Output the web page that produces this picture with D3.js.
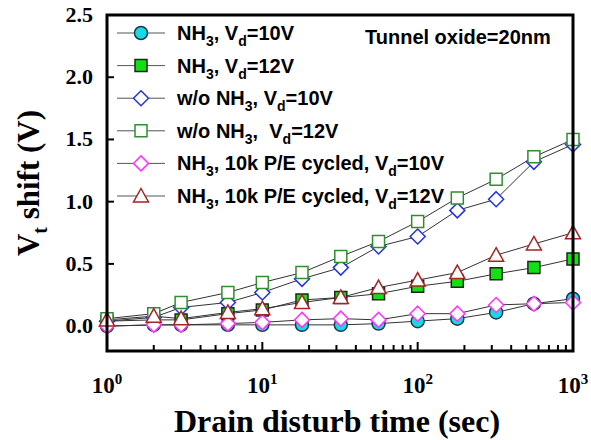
<meta charset="utf-8">
<title>Vt shift vs drain disturb time</title>
<body style="margin:0;background:#fff">
<script src="https://cdn.jsdelivr.net/npm/d3@7"></script>
<script>
// data
var times = [1, 2, 3, 6, 10, 18, 32, 56, 100, 180, 320, 560, 1000];
var nh3_10 =      [0.00, 0.01, 0.01, 0.01, 0.01, 0.01, 0.01, 0.02, 0.04, 0.06, 0.11, 0.18, 0.22];
var nh3_12 =      [0.04, 0.05, 0.05, 0.10, 0.13, 0.21, 0.23, 0.26, 0.32, 0.36, 0.42, 0.47, 0.54];
var wo_10 =       [0.04, 0.07, 0.15, 0.19, 0.27, 0.38, 0.47, 0.64, 0.72, 0.93, 1.02, 1.32, 1.46];
var wo_12 =       [0.06, 0.10, 0.19, 0.27, 0.35, 0.43, 0.56, 0.68, 0.84, 1.03, 1.18, 1.36, 1.50];
var cyc_10 =      [0.00, 0.01, 0.01, 0.02, 0.03, 0.05, 0.06, 0.05, 0.10, 0.10, 0.17, 0.18, 0.19];
var cyc_12 =      [0.05, 0.08, 0.06, 0.11, 0.14, 0.19, 0.23, 0.31, 0.37, 0.43, 0.57, 0.66, 0.75];

var yTicks = [0, 0.5, 1.0, 1.5, 2.0, 2.5];
var xDecades = [1, 10, 100, 1000];

// legend labels: [text, subscript?]
var labels = [
  [["NH", 0], ["3", 1], [", V", 0], ["d", 1], ["=10V", 0]],
  [["NH", 0], ["3", 1], [", V", 0], ["d", 1], ["=12V", 0]],
  [["w/o NH", 0], ["3", 1], [", V", 0], ["d", 1], ["=10V", 0]],
  [["w/o NH", 0], ["3", 1], [",  V", 0], ["d", 1], ["=12V", 0]],
  [["NH", 0], ["3", 1], [", 10k P/E cycled, V", 0], ["d", 1], ["=10V", 0]],
  [["NH", 0], ["3", 1], [", 10k P/E cycled, V", 0], ["d", 1], ["=12V", 0]]
];

var series = [
  {v: nh3_10, shape: "circle",   fill: "#19d9e6", stroke: "#1a3a4a"},
  {v: nh3_12, shape: "square",   fill: "#11e011", stroke: "#222"},
  {v: wo_10,  shape: "diamond",  fill: "#fff",    stroke: "#2233dd"},
  {v: wo_12,  shape: "square",   fill: "#fff",    stroke: "#2f8f2f"},
  {v: cyc_10, shape: "diamond",  fill: "#fff",    stroke: "#ff33ff"},
  {v: cyc_12, shape: "triangle", fill: "#fff",    stroke: "#a32525"}
];

var W = 591, H = 440;
var L = 107, R = 573, T = 15, B = 351;

var svg = d3.select("body").append("svg")
    .attr("width", W).attr("height", H)
    .style("display", "block");

var x = d3.scaleLog().domain([1, 1000]).range([L, R]);
var y = d3.scaleLinear().domain([-0.2, 2.5]).range([B, T]);

var serif = "'Liberation Serif','DejaVu Serif',serif";
var sans = "'Liberation Sans',Arial,sans-serif";

// ticks (inward)
var minor = [];
[1, 10, 100].forEach(function(d) {
  for (var k = 2; k <= 9; k++) minor.push(d * k);
});
svg.selectAll(".xminor").data(minor).enter().append("line")
    .attr("x1", function(d) { return x(d); }).attr("x2", function(d) { return x(d); })
    .attr("y1", B).attr("y2", B - 6)
    .style("stroke", "#000").style("stroke-width", 2);
svg.selectAll(".xmajor").data(xDecades).enter().append("line")
    .attr("x1", function(d) { return x(d); }).attr("x2", function(d) { return x(d); })
    .attr("y1", B).attr("y2", B - 9)
    .style("stroke", "#000").style("stroke-width", 2);
svg.selectAll(".ytick").data(yTicks).enter().append("line")
    .attr("x1", L).attr("x2", L + 7)
    .attr("y1", function(d) { return y(d); }).attr("y2", function(d) { return y(d); })
    .style("stroke", "#000").style("stroke-width", 2);

// y tick labels
svg.selectAll(".ylab").data(yTicks).enter().append("text")
    .attr("x", 93).attr("y", function(d) { return y(d) + 7; })
    .attr("text-anchor", "end")
    .style("font-family", serif).style("font-weight", "bold").style("font-size", "22px")
    .text(function(d) { return d.toFixed(1); });

// x tick labels 10^n
xDecades.forEach(function(d, i) {
  var t = svg.append("text")
      .attr("x", x(d)).attr("y", 393)
      .attr("text-anchor", "middle")
      .style("font-family", serif).style("font-weight", "bold").style("font-size", "23px");
  t.append("tspan").text("10");
  t.append("tspan").attr("dy", -9).style("font-size", "15px").text(i);
});

// axis titles
svg.append("text")
    .attr("x", 337).attr("y", 432)
    .attr("text-anchor", "middle")
    .style("font-family", serif).style("font-weight", "bold").style("font-size", "32px")
    .text("Drain disturb time (sec)");

var yt = svg.append("text")
    .attr("transform", "translate(39,183) rotate(-90)")
    .attr("text-anchor", "middle")
    .style("font-family", serif).style("font-weight", "bold").style("font-size", "31px");
yt.append("tspan").text("V");
yt.append("tspan").attr("dy", 8).style("font-size", "20px").text("t");
yt.append("tspan").attr("dy", -8).text(" shift (V)");

// lines and markers
var line = d3.line()
    .x(function(d, i) { return x(times[i]); })
    .y(function(d) { return y(d); });

function marker(g, shape, cx, cy) {
  if (shape === "circle") {
    return g.append("circle").attr("cx", cx).attr("cy", cy).attr("r", 6.5);
  }
  var p;
  if (shape === "square") {
    p = [[-6, -6], [6, -6], [6, 6], [-6, 6]];
  } else if (shape === "diamond") {
    p = [[0, -7.5], [7.5, 0], [0, 7.5], [-7.5, 0]];
  } else {
    p = [[0, -7.5], [7.5, 6], [-7.5, 6]];
  }
  return g.append("path")
      .attr("d", "M" + p.map(function(q) { return (cx + q[0]) + "," + (cy + q[1]); }).join("L") + "Z");
}

series.forEach(function(s) {
  svg.append("path")
      .datum(s.v)
      .attr("d", line)
      .style("fill", "none").style("stroke", "#333").style("stroke-width", 1);
});
series.forEach(function(s) {
  var g = svg.append("g");
  s.v.forEach(function(v, i) {
    marker(g, s.shape, x(times[i]), y(v))
        .style("fill", s.fill).style("stroke", s.stroke).style("stroke-width", 1.5);
  });
});

// frame
svg.append("rect")
    .attr("x", L).attr("y", T).attr("width", R - L).attr("height", B - T)
    .style("fill", "none").style("stroke", "#000").style("stroke-width", 3);

// legend
var legY0 = 33, legDy = 32.6;
series.forEach(function(s, i) {
  var ly = legY0 + i * legDy;
  svg.append("line")
      .attr("x1", 117).attr("x2", 165).attr("y1", ly).attr("y2", ly)
      .style("stroke", "#555").style("stroke-width", 1);
  marker(svg, s.shape, 141, ly)
      .style("fill", s.fill).style("stroke", s.stroke).style("stroke-width", 1.5);
  var t = svg.append("text")
      .attr("x", 177).attr("y", ly + 7)
      .style("font-family", sans).style("font-weight", "bold").style("font-size", "20px")
      .attr("xml:space", "preserve").style("white-space", "pre");
  labels[i].forEach(function(seg) {
    if (seg[1]) {
      t.append("tspan").attr("dy", 6).style("font-size", "14px").text(seg[0]);
    } else {
      var sp = t.append("tspan").text(seg[0]);
      if (t.selectAll("tspan").size() > 1) sp.attr("dy", -6);
    }
  });
});

svg.append("text")
    .attr("x", 365).attr("y", 44)
    .style("font-family", sans).style("font-weight", "bold").style("font-size", "20px")
    .text("Tunnel oxide=20nm");
</script>
</body>
